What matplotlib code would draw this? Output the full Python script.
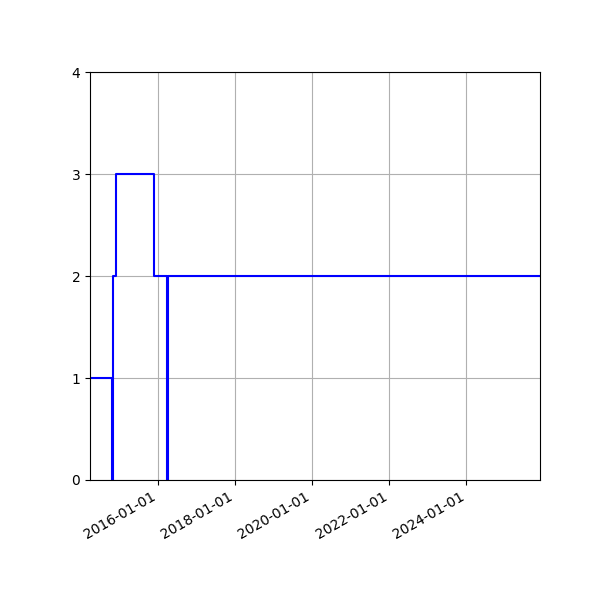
import numpy as np
import pandas as pd
import matplotlib
matplotlib.use('Agg')
import matplotlib.pyplot as plt
import matplotlib.dates as mdates

# step data
dates = ['2014-03-25', '2014-10-19', '2014-10-26', '2014-11-23',
         '2015-11-21', '2016-03-24', '2016-03-31', '2025-11-30']
values = [1, 0, 2, 3, 2, 0, 2, 2]

t = pd.DataFrame()
t['date'] = pd.to_datetime(dates)
t['value'] = values

fig, ax = plt.subplots(figsize=(6, 6), dpi=100)
ax.step(t['date'], t['value'], where='post', color='blue', linewidth=1.5)
ax.set_xlim(t['date'].iloc[0], t['date'].iloc[-1])
ax.set_ylim(0, 4)
ax.set_yticks([0, 1, 2, 3, 4])
ax.xaxis.set_major_locator(mdates.YearLocator(2))
ax.xaxis.set_major_formatter(mdates.DateFormatter('%Y-%m-%d'))
ax.grid(True)
fig.autofmt_xdate()
fig.subplots_adjust(left=0.15, right=0.9, top=0.88, bottom=0.2)
fig.savefig('out.png')
